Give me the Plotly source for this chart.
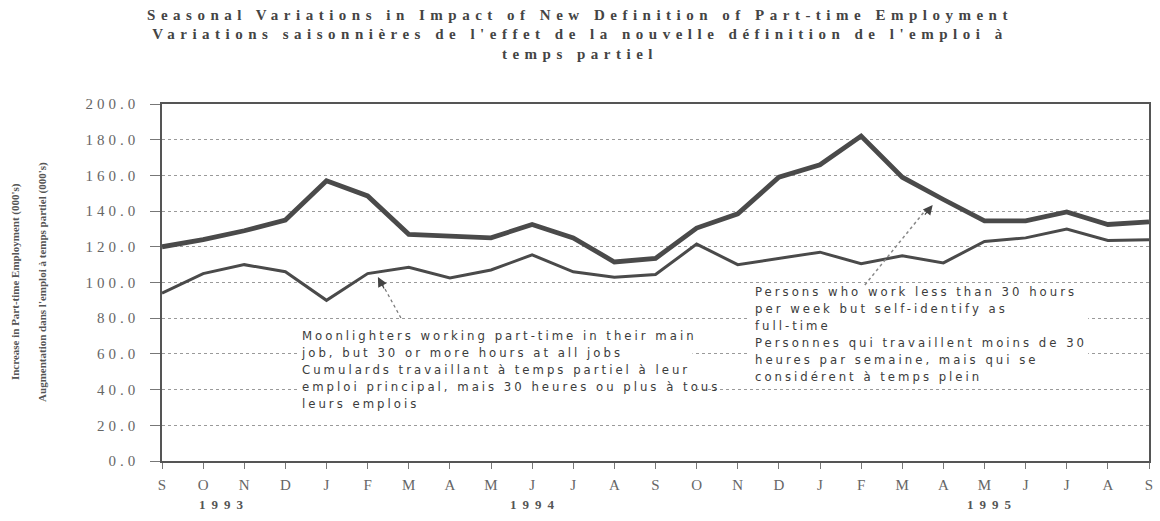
import plotly.graph_objects as go

# ---- data ----
months = ["S", "O", "N", "D", "J", "F", "M", "A", "M", "J", "J", "A",
          "S", "O", "N", "D", "J", "F", "M", "A", "M", "J", "J", "A", "S"]
years = ["1993", "1994", "1995"]
year_pos = [1.53, 9.07, 20.2]

self_identified_full_time = [120, 124, 129, 135, 157, 148.5, 127, 126, 125, 132.5, 125, 111.5,
                             113.5, 130.5, 138.5, 159, 166, 182, 159, 146.5, 134.5, 134.5,
                             139.5, 132.5, 134]
moonlighters = [94, 105, 110, 106, 90, 105, 108.5, 102.5, 107, 115.5, 106, 103,
                104.5, 121.5, 110, 113.5, 117, 110.5, 115, 111, 123, 125, 130, 123.5, 124]

y_ticks = [0, 20, 40, 60, 80, 100, 120, 140, 160, 180, 200]

title_lines = [
    "Seasonal Variations in Impact of New Definition of Part-time Employment",
    "Variations saisonnières de l'effet de la nouvelle définition de l'emploi à",
    "temps partiel",
]
y_title_en = "Increase in Part-time Employment (000's)"
y_title_fr = "Augmentation dans l'emploi à temps partiel (000's)"
moon_text = ("Moonlighters working part-time in their main<br>"
             "job, but 30 or more hours at all jobs<br>"
             "Cumulards travaillant à temps partiel à leur<br>"
             "emploi principal, mais 30 heures ou plus à tous<br>"
             "leurs emplois")
persons_text = ("Persons who work less than 30 hours<br>"
                "per week but self-identify as<br>"
                "full-time<br>"
                "Personnes qui travaillent moins de 30<br>"
                "heures par semaine, mais qui se<br>"
                "considérent à temps plein")

x_idx = list(range(len(months)))

SERIF = "Liberation Serif, Times New Roman, serif"
NARROW = "Liberation Sans Narrow, DejaVu Sans Condensed, Liberation Sans, sans-serif"
LINE = "#4a4a4a"

fig = go.Figure()
fig.add_trace(go.Scatter(x=x_idx, y=self_identified_full_time, mode="lines",
                         line=dict(color=LINE, width=4.8), name="Self-identify full-time",
                         showlegend=False))
fig.add_trace(go.Scatter(x=x_idx, y=moonlighters, mode="lines",
                         line=dict(color=LINE, width=3), name="Moonlighters",
                         showlegend=False))

# white boxes behind the notes (cover gridlines)
fig.add_shape(type="rect", xref="x", yref="y", x0=3.29, x1=12.9, y0=27, y1=77.5,
              fillcolor="white", line=dict(width=0), layer="between")
fig.add_shape(type="rect", xref="x", yref="y", x0=14.24, x1=22.52, y0=41, y1=99.3,
              fillcolor="white", line=dict(width=0), layer="between")

# dotted arrow shafts
fig.add_shape(type="line", xref="x", yref="y", x0=5.81, y0=80.1, x1=5.3, y1=101.5,
              line=dict(color="#777", width=1.2, dash="dot"), layer="above")
fig.add_shape(type="line", xref="x", yref="y", x0=17.09, y0=98.6, x1=18.6, y1=141.5,
              line=dict(color="#888", width=1.5, dash="dot"), layer="above")

annotations = [
    dict(text=moon_text, x=3.34, y=51.5, xref="x", yref="y", xanchor="left",
         yanchor="middle", align="left", showarrow=False,
         font=dict(family=NARROW, size=13, color="#3c3c3c")),
    dict(text=persons_text, x=14.36, y=70.9, xref="x", yref="y", xanchor="left",
         yanchor="middle", align="left", showarrow=False,
         font=dict(family=NARROW, size=13, color="#3c3c3c")),
    dict(text="", x=5.25, y=103.1, xref="x", yref="y", showarrow=True, ax=7, ay=13,
         arrowhead=2, arrowsize=1.6, arrowwidth=1.2, arrowcolor="#444", standoff=0),
    dict(text="", x=18.74, y=143.4, xref="x", yref="y", showarrow=True, ax=-9, ay=11,
         arrowhead=2, arrowsize=1.6, arrowwidth=1.2, arrowcolor="#444", standoff=0),
    dict(text=y_title_en, x=-0.1483, y=0.503, xref="paper", yref="paper", textangle=-90,
         showarrow=False, xanchor="center", yanchor="middle",
         font=dict(family=SERIF, size=11, color="#555", weight="bold")),
    dict(text=y_title_fr, x=-0.1211, y=0.503, xref="paper", yref="paper", textangle=-90,
         showarrow=False, xanchor="center", yanchor="middle",
         font=dict(family=SERIF, size=11, color="#555", weight="bold")),
]
for yr, xp in zip(years, year_pos):
    annotations.append(dict(text=yr, x=xp, y=-0.123, xref="x", yref="paper",
                            showarrow=False, xanchor="center", yanchor="middle",
                            font=dict(family=SERIF, size=13, color="#555", weight="bold")))

fig.update_layout(
    width=1160, height=521,
    margin=dict(l=162, r=7, t=104, b=60),
    paper_bgcolor="white", plot_bgcolor="white",
    title=dict(text="<br>".join(title_lines), x=0.5, xref="container", xanchor="center",
               y=0.962, yref="container", yanchor="top",
               font=dict(family=SERIF, size=15, color="#444", weight="bold")),
    annotations=annotations,
    showlegend=False,
)
fig.update_xaxes(range=[0, 24], tickmode="array", tickvals=x_idx, ticktext=months,
                 showgrid=False, zeroline=False, showline=True, linecolor="#555",
                 linewidth=1.5, mirror=True, ticks="outside", ticklen=6, tickcolor="#777",
                 ticklabelstandoff=3,
                 tickfont=dict(family=SERIF, size=15, color="#666"))
fig.update_yaxes(range=[0, 200], tickmode="array", tickvals=y_ticks,
                 ticktext=[f"{v:.1f}" for v in y_ticks],
                 showgrid=True, gridcolor="#9a9a9a", gridwidth=1, griddash="dot",
                 zeroline=False, showline=True, linecolor="#555", linewidth=1.5, mirror=True,
                 ticks="outside", ticklen=10, tickcolor="#777", ticklabelstandoff=8,
                 tickfont=dict(family=SERIF, size=15, color="#666"))

post = """
document.body.style.margin = '0';
document.body.style.padding = '0';
var gd = document.getElementById('{plot_id}');
gd.querySelectorAll('.gtitle').forEach(function(t){ t.style.letterSpacing='5.5px'; });
gd.querySelectorAll('.ytick text').forEach(function(t){ t.style.letterSpacing='4px'; });
gd.querySelectorAll('.annotation-text').forEach(function(t){
  var s = t.textContent || '';
  if (s.indexOf('Increase') === 0 || s.indexOf('Augmentation') === 0) return;
  if (s.indexOf('199') === 0) { t.style.letterSpacing='6px'; return; }
  t.style.letterSpacing='3px';
});
"""
fig.write_html("out.html", post_script=post, config={"displayModeBar": False})
